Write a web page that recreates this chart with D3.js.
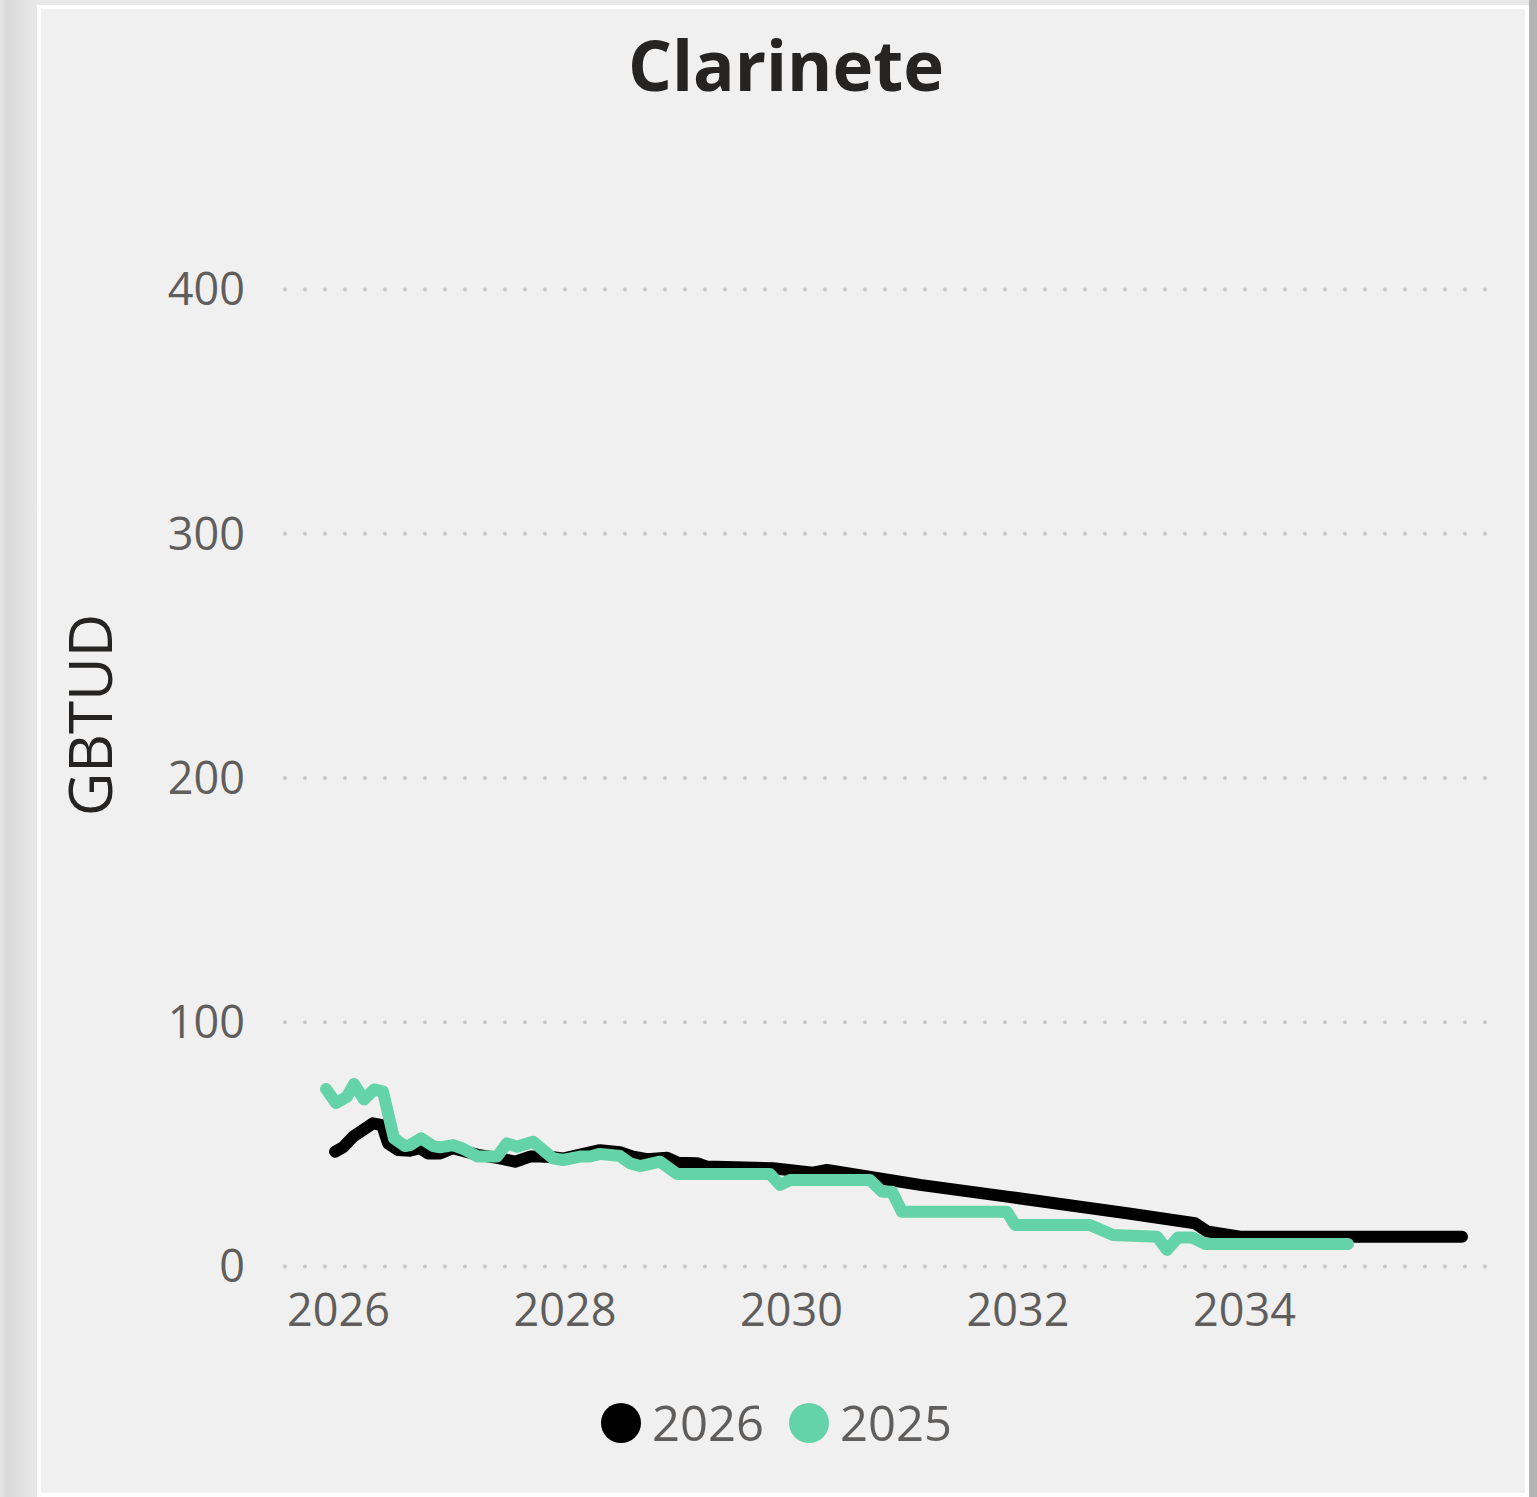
<!DOCTYPE html>
<html>
<head>
<meta charset="utf-8">
<style>
  html, body { margin: 0; padding: 0; }
  body { width: 1537px; height: 1497px; overflow: hidden;
         background: linear-gradient(to right, #e6e6e6 0px, #d9d9d9 8px, #e9e9e9 37px); }
  svg { display: block; }
  text { font-family: 'Open Sans', 'Noto Sans', sans-serif; }
</style>
</head>
<body>
<svg width="1537" height="1497"></svg>
<script src="https://d3js.org/d3.v7.min.js"></script>
<script>

var chartTitle = "Clarinete",
    yTitle = "GBTUD";

// series names, in legend order
var seriesNames = ["2026", "2025"],
    seriesColors = ["#000000", "#65d3a9"];

// decimal years and values for each series
var years2026 = [2025.974, 2026.044, 2026.132, 2026.221, 2026.309, 2026.389, 2026.442, 2026.530,
                 2026.636, 2026.724, 2026.795, 2026.901, 2027.015, 2027.236, 2027.430, 2027.563,
                 2027.695, 2027.784, 2027.898, 2027.987, 2028.137, 2028.313, 2028.490, 2028.605,
                 2028.728, 2028.905, 2029.002, 2029.170, 2029.258, 2029.841, 2030.194, 2030.318,
                 2031.139, 2031.907, 2032.967, 2033.567, 2033.673, 2033.965, 2035.925];
var values2026 = [46.8, 48.6, 52.9, 55.7, 58.4, 57.7, 50.2, 47.5,
                  47.2, 48.2, 46.1, 46.1, 48.2, 45.5, 44.1, 42.7,
                  44.8, 44.8, 44.5, 44.0, 45.6, 47.4, 46.6, 44.8,
                  43.7, 44.3, 42.3, 42.1, 40.7, 40.0, 38.2, 39.3,
                  33.2, 28.4, 21.6, 17.5, 14.2, 12.0, 12.0];

var years2025 = [2025.894, 2025.982, 2026.079, 2026.141, 2026.230, 2026.318, 2026.397, 2026.494,
                 2026.592, 2026.636, 2026.733, 2026.839, 2026.901, 2027.015, 2027.104, 2027.236,
                 2027.404, 2027.492, 2027.581, 2027.722, 2027.898, 2027.987, 2028.137, 2028.225,
                 2028.313, 2028.490, 2028.578, 2028.667, 2028.843, 2028.993, 2029.815, 2029.903,
                 2029.991, 2030.698, 2030.804, 2030.892, 2030.980, 2031.907, 2031.978, 2032.640,
                 2032.843, 2033.232, 2033.320, 2033.417, 2033.541, 2033.656, 2034.918];
var values2025 = [72.5, 66.7, 69.3, 74.5, 68.2, 72.3, 71.4, 52.3,
                  49.1, 49.5, 52.3, 49.1, 48.6, 49.5, 48.0, 44.8,
                  44.8, 50.2, 48.8, 50.9, 44.1, 43.4, 44.8, 44.8,
                  45.9, 45.0, 42.1, 40.9, 42.7, 37.7, 37.7, 33.2,
                  35.2, 35.2, 30.4, 30.4, 22.2, 22.2, 16.8, 16.8,
                  12.7, 12.0, 6.6, 11.7, 11.7, 9.0, 9.0];

var xTicks = [2026, 2028, 2030, 2032, 2034],
    yTicks = [0, 100, 200, 300, 400];

var svg = d3.select("svg");

// card
svg.append("rect").attr("x", 1529).attr("y", 0).attr("width", 8).attr("height", 1497).attr("fill", "#b3b3b3");
svg.append("rect").attr("x", 37).attr("y", 5).attr("width", 1492).attr("height", 1500).attr("fill", "#ffffff");
svg.append("rect").attr("x", 41).attr("y", 9).attr("width", 1484).attr("height", 1484).attr("fill", "#f0f0f0");

var x = d3.scaleLinear().domain([2025.532, 2036.172]).range([285, 1490]);
var y = d3.scaleLinear().domain([0, 400]).range([1266, 289]);

svg.append("text")
    .attr("x", 786).attr("y", 91)
    .attr("text-anchor", "middle")
    .attr("font-weight", "bold")
    .attr("font-size", 69)
    .attr("fill", "#252423")
    .text(chartTitle);

// y grid + labels
var yAxis = svg.append("g")
    .attr("transform", "translate(285,0)")
    .call(d3.axisLeft(y).tickValues(yTicks).tickSize(-1205).tickPadding(40).tickFormat(d3.format("d")))
    .attr("font-family", null);
yAxis.select(".domain").remove();
yAxis.selectAll(".tick line")
    .attr("stroke", "#c8c8c8")
    .attr("stroke-width", 4)
    .attr("stroke-linecap", "round")
    .attr("stroke-dasharray", "0 20");
yAxis.selectAll(".tick text")
    .attr("font-size", 45)
    .attr("fill", "#605e5c")
    .attr("dy", "0.35em");

// x labels
var xAxis = svg.append("g")
    .attr("transform", "translate(0,1266)")
    .call(d3.axisBottom(x).tickValues(xTicks).tickSize(0).tickPadding(28).tickFormat(d3.format("d")))
    .attr("font-family", null);
xAxis.select(".domain").remove();
xAxis.selectAll(".tick text")
    .attr("font-size", 45)
    .attr("fill", "#605e5c");

svg.append("text")
    .attr("transform", "translate(112,715) rotate(-90)")
    .attr("text-anchor", "middle")
    .attr("font-size", 60)
    .attr("fill", "#252423")
    .text(yTitle);

var series = [
  { name: seriesNames[0], color: seriesColors[0], pts: d3.zip(years2026, values2026) },
  { name: seriesNames[1], color: seriesColors[1], pts: d3.zip(years2025, values2025) }
];

var line = d3.line()
    .x(function(d) { return x(d[0]); })
    .y(function(d) { return y(d[1]); });

svg.selectAll(".series")
  .data(series)
  .enter().append("path")
    .attr("class", "series")
    .attr("d", function(d) { return line(d.pts); })
    .attr("fill", "none")
    .attr("stroke", function(d) { return d.color; })
    .attr("stroke-width", 12)
    .attr("stroke-linejoin", "round")
    .attr("stroke-linecap", "round");

// legend
var legendX = [621, 809];
var legend = svg.selectAll(".legend")
  .data(series)
  .enter().append("g")
    .attr("class", "legend")
    .attr("transform", function(d, i) { return "translate(" + legendX[i] + ",1423)"; });
legend.append("circle")
    .attr("r", 20)
    .attr("fill", function(d) { return d.color; });
legend.append("text")
    .attr("x", 31)
    .attr("dy", "0.36em")
    .attr("font-size", 49)
    .attr("fill", "#605e5c")
    .text(function(d) { return d.name; });

</script>
</body>
</html>
